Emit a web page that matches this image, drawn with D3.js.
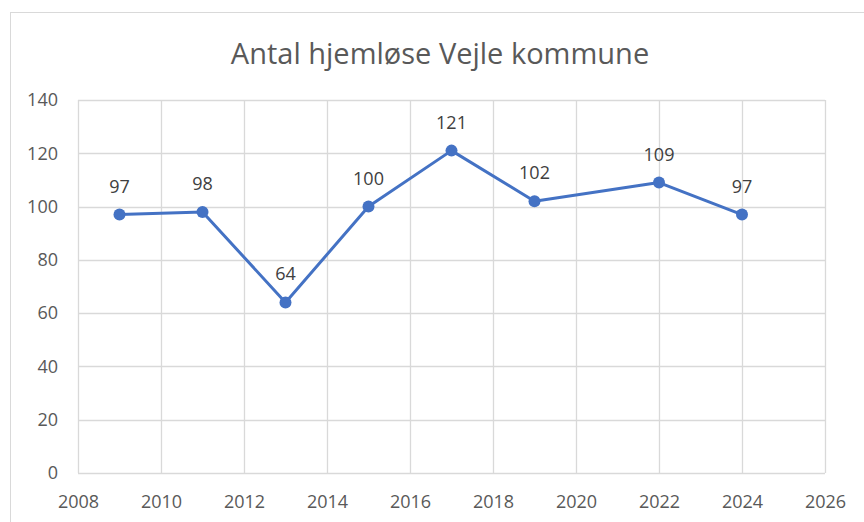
<!DOCTYPE html>
<html><head><meta charset="utf-8">
<script src="https://cdn.jsdelivr.net/npm/d3@7"></script>
<style>body{margin:0;background:#fff;} svg{display:block;}</style>
</head><body>
<script>
const years = [2009, 2011, 2013, 2015, 2017, 2019, 2022, 2024];
const values = [97, 98, 64, 100, 121, 102, 109, 97];
const xTicks = [2008, 2010, 2012, 2014, 2016, 2018, 2020, 2022, 2024, 2026];
const yTicks = [0, 20, 40, 60, 80, 100, 120, 140];
const title = "Antal hjemløse Vejle kommune";

const W = 864, H = 522;
const svg = d3.select("body").append("svg").attr("width", W).attr("height", H);
const font = "'Open Sans', sans-serif";

svg.append("rect").attr("x", 10.5).attr("y", 12.5).attr("width", 900).attr("height", 600)
  .attr("fill", "#fff").attr("stroke", "#d9d9d9").attr("stroke-width", 1);

const x = d3.scaleLinear().domain([2008, 2026]).range([78, 825]);
const y = d3.scaleLinear().domain([0, 140]).range([473, 100]);

const g = svg.append("g");
g.selectAll(".hg").data(yTicks).enter().append("line")
  .attr("x1", x(2008)).attr("x2", x(2026)).attr("y1", d => Math.round(y(d)) + 0.5).attr("y2", d => Math.round(y(d)) + 0.5)
  .attr("stroke", "#d9d9d9").attr("stroke-width", 1.3);
g.selectAll(".vg").data(xTicks).enter().append("line")
  .attr("y1", y(0)).attr("y2", y(140)).attr("x1", d => Math.round(x(d)) + 0.5).attr("x2", d => Math.round(x(d)) + 0.5)
  .attr("stroke", "#d9d9d9").attr("stroke-width", 1.3);

const yAxis = d3.axisLeft(y).tickValues(yTicks).tickSize(0).tickPadding(20);
const ya = svg.append("g").attr("transform", `translate(${x(2008)},0)`).call(yAxis);
ya.select(".domain").remove();
ya.selectAll("text").attr("font-family", font).attr("font-size", 18).attr("fill", "#595959");

const xAxis = d3.axisBottom(x).tickValues(xTicks).tickFormat(d3.format("d")).tickSize(0).tickPadding(22);
const xa = svg.append("g").attr("transform", `translate(0,${y(0)})`).call(xAxis);
xa.select(".domain").remove();
xa.selectAll("text").attr("font-family", font).attr("font-size", 18).attr("fill", "#595959");

svg.append("text").attr("x", 440).attr("y", 64).attr("text-anchor", "middle")
  .attr("font-family", font).attr("font-size", 29).attr("fill", "#595959").text(title);

const data = years.map((yr, i) => ({yr, v: values[i]}));
const line = d3.line().x(d => x(d.yr)).y(d => y(d.v));
svg.append("path").datum(data).attr("d", line).attr("fill", "none")
  .attr("stroke", "#4472C4").attr("stroke-width", 3).attr("stroke-linejoin", "round");
svg.selectAll(".pt").data(data).enter().append("circle")
  .attr("cx", d => x(d.yr)).attr("cy", d => y(d.v)).attr("r", 6).attr("fill", "#4472C4");
svg.selectAll(".lbl").data(data).enter().append("text")
  .attr("x", d => x(d.yr)).attr("y", d => y(d.v) - 22).attr("text-anchor", "middle")
  .attr("font-family", font).attr("font-size", 18).attr("fill", "#404040").text(d => d.v);
</script>
</body></html>
